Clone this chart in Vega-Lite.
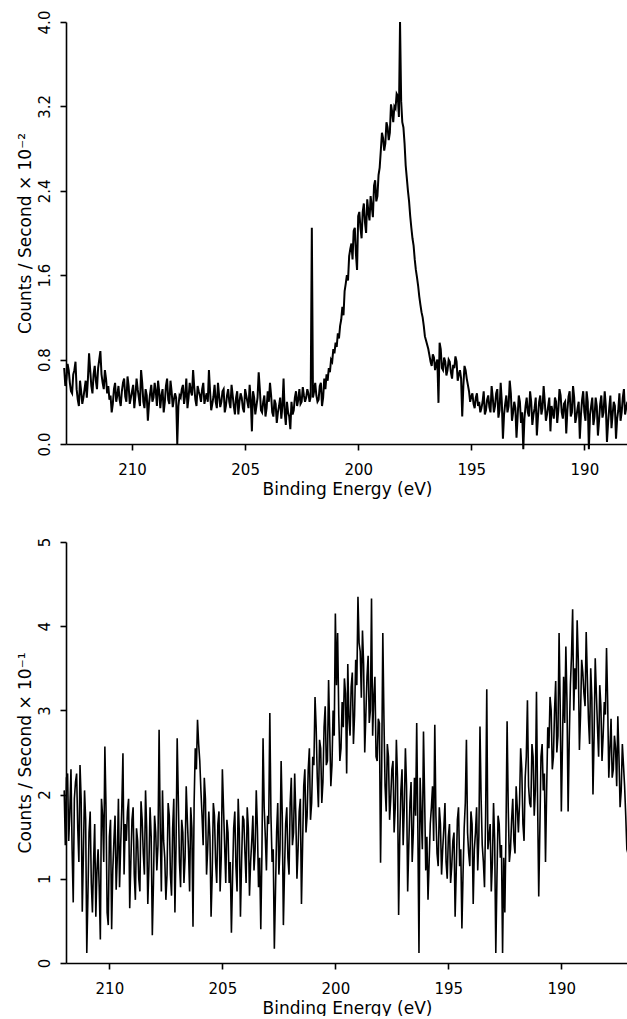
{
  "$schema": "https://vega.github.io/schema/vega-lite/v6.json",
  "background": "white",
  "padding": {"left": 15, "top": 10, "right": 0, "bottom": 0},
  "bounds": "flush",
  "spacing": 98,
  "config": {
    "view": {"stroke": null},
    "axis": {
      "grid": false,
      "labelFont": "DejaVu Sans",
      "titleFont": "DejaVu Sans",
      "labelFontSize": 15,
      "titleFontSize": 17,
      "titleFontWeight": "normal",
      "labelColor": "black",
      "titleColor": "black",
      "domainColor": "black",
      "tickColor": "black",
      "domainWidth": 1.6,
      "tickWidth": 1.6,
      "tickSize": 6,
      "labelFlush": false,
      "labelOverlap": false
    },
    "axisX": {"labelPadding": 12, "titlePadding": 4},
    "axisY": {"labelAngle": -90, "labelPadding": 8, "titlePadding": 3}
  },
  "datasets": {
    "top": [
      {"e":213.0,"c":0.72},{"e":212.9,"c":0.62},{"e":212.8,"c":0.70},{"e":212.7,"c":0.50},{"e":212.6,"c":0.66},{"e":212.5,"c":0.78},{"e":212.4,"c":0.42},{"e":212.3,"c":0.60},{"e":212.2,"c":0.38},{"e":212.1,"c":0.52},
      {"e":212.0,"c":0.44},{"e":211.9,"c":0.86},{"e":211.8,"c":0.55},{"e":211.7,"c":0.66},{"e":211.6,"c":0.60},{"e":211.5,"c":0.72},{"e":211.4,"c":0.88},{"e":211.3,"c":0.58},{"e":211.2,"c":0.70},{"e":211.1,"c":0.48},
      {"e":211.0,"c":0.42},{"e":210.9,"c":0.30},{"e":210.8,"c":0.52},{"e":210.7,"c":0.40},{"e":210.6,"c":0.55},{"e":210.5,"c":0.36},{"e":210.4,"c":0.58},{"e":210.3,"c":0.45},{"e":210.2,"c":0.64},{"e":210.1,"c":0.38},
      {"e":210.0,"c":0.50},{"e":209.9,"c":0.34},{"e":209.8,"c":0.62},{"e":209.7,"c":0.44},{"e":209.6,"c":0.70},{"e":209.5,"c":0.40},{"e":209.4,"c":0.52},{"e":209.3,"c":0.22},{"e":209.2,"c":0.48},{"e":209.1,"c":0.40},
      {"e":209.0,"c":0.58},{"e":208.9,"c":0.36},{"e":208.8,"c":0.50},{"e":208.7,"c":0.46},{"e":208.6,"c":0.30},{"e":208.5,"c":0.55},{"e":208.4,"c":0.42},{"e":208.3,"c":0.60},{"e":208.2,"c":0.35},{"e":208.1,"c":0.48},
      {"e":208.0,"c":0.00},{"e":207.9,"c":0.46},{"e":207.8,"c":0.52},{"e":207.7,"c":0.38},{"e":207.6,"c":0.62},{"e":207.5,"c":0.44},{"e":207.4,"c":0.50},{"e":207.3,"c":0.70},{"e":207.2,"c":0.42},{"e":207.1,"c":0.55},
      {"e":207.0,"c":0.46},{"e":206.9,"c":0.52},{"e":206.8,"c":0.38},{"e":206.7,"c":0.48},{"e":206.6,"c":0.70},{"e":206.5,"c":0.32},{"e":206.4,"c":0.45},{"e":206.3,"c":0.40},{"e":206.2,"c":0.58},{"e":206.1,"c":0.35},
      {"e":206.0,"c":0.50},{"e":205.9,"c":0.30},{"e":205.8,"c":0.46},{"e":205.7,"c":0.40},{"e":205.6,"c":0.56},{"e":205.5,"c":0.36},{"e":205.4,"c":0.44},{"e":205.3,"c":0.28},{"e":205.2,"c":0.48},{"e":205.1,"c":0.34},
      {"e":205.0,"c":0.52},{"e":204.9,"c":0.40},{"e":204.8,"c":0.56},{"e":204.7,"c":0.12},{"e":204.6,"c":0.44},{"e":204.5,"c":0.36},{"e":204.4,"c":0.68},{"e":204.3,"c":0.32},{"e":204.2,"c":0.40},{"e":204.1,"c":0.26},
      {"e":204.0,"c":0.50},{"e":203.9,"c":0.58},{"e":203.8,"c":0.30},{"e":203.7,"c":0.42},{"e":203.6,"c":0.20},{"e":203.5,"c":0.36},{"e":203.4,"c":0.24},{"e":203.3,"c":0.62},{"e":203.2,"c":0.18},{"e":203.1,"c":0.30},
      {"e":203.0,"c":0.14},{"e":202.9,"c":0.28},{"e":202.8,"c":0.44},{"e":202.7,"c":0.36},{"e":202.6,"c":0.52},{"e":202.5,"c":0.40},{"e":202.4,"c":0.46},{"e":202.3,"c":0.44},{"e":202.2,"c":0.48},{"e":202.1,"c":0.45},
      {"e":202.05,"c":2.05},{"e":202.0,"c":0.44},{"e":201.9,"c":0.58},{"e":201.8,"c":0.40},{"e":201.7,"c":0.55},{"e":201.6,"c":0.36},{"e":201.5,"c":0.62},{"e":201.4,"c":0.66},{"e":201.3,"c":0.72},{"e":201.2,"c":0.80},
      {"e":201.1,"c":0.90},{"e":201.0,"c":0.96},{"e":200.9,"c":1.05},{"e":200.8,"c":1.12},{"e":200.7,"c":1.30},{"e":200.6,"c":1.45},{"e":200.5,"c":1.60},{"e":200.4,"c":1.78},{"e":200.3,"c":1.90},{"e":200.2,"c":2.02},
      {"e":200.1,"c":1.80},{"e":200.0,"c":2.16},{"e":199.9,"c":2.05},{"e":199.8,"c":2.20},{"e":199.7,"c":2.10},{"e":199.6,"c":2.32},{"e":199.5,"c":2.12},{"e":199.4,"c":2.25},{"e":199.3,"c":2.45},{"e":199.2,"c":2.30},
      {"e":199.1,"c":2.55},{"e":199.0,"c":2.78},{"e":198.9,"c":2.90},{"e":198.8,"c":2.85},{"e":198.7,"c":3.00},{"e":198.6,"c":2.95},{"e":198.5,"c":3.15},{"e":198.4,"c":3.20},{"e":198.3,"c":3.32},{"e":198.2,"c":3.10},
      {"e":198.15,"c":4.00},{"e":198.1,"c":3.25},{"e":198.0,"c":3.00},{"e":197.9,"c":2.64},{"e":197.8,"c":2.40},{"e":197.7,"c":2.16},{"e":197.6,"c":1.95},{"e":197.5,"c":1.75},{"e":197.4,"c":1.58},{"e":197.3,"c":1.40},
      {"e":197.2,"c":1.25},{"e":197.1,"c":1.12},{"e":197.0,"c":0.98},{"e":196.9,"c":0.90},{"e":196.8,"c":0.78},{"e":196.7,"c":0.85},{"e":196.6,"c":0.70},{"e":196.5,"c":0.80},{"e":196.45,"c":0.39},{"e":196.4,"c":0.96},
      {"e":196.3,"c":0.72},{"e":196.2,"c":0.82},{"e":196.1,"c":0.65},{"e":196.0,"c":0.80},{"e":195.9,"c":0.68},{"e":195.8,"c":0.75},{"e":195.7,"c":0.83},{"e":195.6,"c":0.60},{"e":195.5,"c":0.70},{"e":195.4,"c":0.26},
      {"e":195.3,"c":0.74},{"e":195.2,"c":0.62},{"e":195.1,"c":0.50},{"e":195.0,"c":0.45},{"e":194.9,"c":0.38},{"e":194.8,"c":0.44},{"e":194.7,"c":0.36},{"e":194.6,"c":0.30},{"e":194.5,"c":0.40},{"e":194.4,"c":0.28},
      {"e":194.3,"c":0.42},{"e":194.2,"c":0.35},{"e":194.1,"c":0.55},{"e":194.0,"c":0.30},{"e":193.9,"c":0.48},{"e":193.8,"c":0.25},{"e":193.7,"c":0.58},{"e":193.6,"c":0.05},{"e":193.5,"c":0.38},{"e":193.4,"c":0.30},
      {"e":193.3,"c":0.60},{"e":193.2,"c":0.22},{"e":193.1,"c":0.40},{"e":193.0,"c":0.06},{"e":192.9,"c":0.46},{"e":192.8,"c":0.20},{"e":192.7,"c":-0.05},{"e":192.6,"c":0.36},{"e":192.5,"c":0.30},{"e":192.4,"c":0.50},
      {"e":192.3,"c":0.18},{"e":192.2,"c":0.34},{"e":192.1,"c":0.08},{"e":192.0,"c":0.40},{"e":191.9,"c":0.28},{"e":191.8,"c":0.55},{"e":191.7,"c":0.22},{"e":191.6,"c":0.36},{"e":191.5,"c":0.12},{"e":191.4,"c":0.30},
      {"e":191.3,"c":0.44},{"e":191.2,"c":0.20},{"e":191.1,"c":0.52},{"e":191.0,"c":0.30},{"e":190.9,"c":0.38},{"e":190.8,"c":0.10},{"e":190.7,"c":0.45},{"e":190.6,"c":0.26},{"e":190.5,"c":0.55},{"e":190.4,"c":0.20},
      {"e":190.3,"c":0.34},{"e":190.2,"c":0.05},{"e":190.1,"c":0.42},{"e":190.0,"c":0.30},{"e":189.9,"c":0.50},{"e":189.8,"c":-0.05},{"e":189.7,"c":0.36},{"e":189.6,"c":0.18},{"e":189.5,"c":0.44},{"e":189.4,"c":0.08},
      {"e":189.3,"c":0.38},{"e":189.2,"c":0.25},{"e":189.1,"c":0.50},{"e":189.0,"c":0.02},{"e":188.9,"c":0.34},{"e":188.8,"c":0.15},{"e":188.7,"c":0.40},{"e":188.6,"c":0.05},{"e":188.5,"c":0.32},{"e":188.4,"c":0.22},
      {"e":188.3,"c":0.44},{"e":188.2,"c":0.28},{"e":188.1,"c":0.40},
      {"e":212.95,"c":0.55},{"e":212.85,"c":0.76},{"e":212.75,"c":0.58},{"e":212.65,"c":0.48},{"e":212.55,"c":0.70},{"e":212.45,"c":0.52},{"e":212.35,"c":0.36},{"e":212.25,"c":0.50},{"e":212.15,"c":0.44},{"e":212.05,"c":0.60},
      {"e":211.95,"c":0.62},{"e":211.85,"c":0.70},{"e":211.75,"c":0.48},{"e":211.65,"c":0.74},{"e":211.55,"c":0.52},{"e":211.45,"c":0.80},{"e":211.35,"c":0.66},{"e":211.25,"c":0.52},{"e":211.15,"c":0.62},{"e":211.05,"c":0.55},
      {"e":210.95,"c":0.46},{"e":210.85,"c":0.38},{"e":210.75,"c":0.58},{"e":210.65,"c":0.46},{"e":210.55,"c":0.42},{"e":210.45,"c":0.50},{"e":210.35,"c":0.62},{"e":210.25,"c":0.40},{"e":210.15,"c":0.55},{"e":210.05,"c":0.44},
      {"e":209.95,"c":0.56},{"e":209.85,"c":0.46},{"e":209.75,"c":0.52},{"e":209.65,"c":0.36},{"e":209.55,"c":0.58},{"e":209.45,"c":0.34},{"e":209.35,"c":0.46},{"e":209.25,"c":0.38},{"e":209.15,"c":0.56},{"e":209.05,"c":0.44},
      {"e":208.95,"c":0.50},{"e":208.85,"c":0.60},{"e":208.75,"c":0.34},{"e":208.65,"c":0.52},{"e":208.55,"c":0.40},{"e":208.45,"c":0.62},{"e":208.35,"c":0.38},{"e":208.25,"c":0.50},{"e":208.15,"c":0.42},{"e":208.05,"c":0.44},
      {"e":207.95,"c":0.36},{"e":207.85,"c":0.44},{"e":207.75,"c":0.56},{"e":207.65,"c":0.46},{"e":207.55,"c":0.34},{"e":207.45,"c":0.58},{"e":207.35,"c":0.46},{"e":207.25,"c":0.54},{"e":207.15,"c":0.36},{"e":207.05,"c":0.50},
      {"e":206.95,"c":0.40},{"e":206.85,"c":0.58},{"e":206.75,"c":0.44},{"e":206.65,"c":0.40},{"e":206.55,"c":0.50},{"e":206.45,"c":0.38},{"e":206.35,"c":0.56},{"e":206.25,"c":0.34},{"e":206.15,"c":0.46},{"e":206.05,"c":0.40},
      {"e":205.95,"c":0.52},{"e":205.85,"c":0.36},{"e":205.75,"c":0.52},{"e":205.65,"c":0.34},{"e":205.55,"c":0.46},{"e":205.45,"c":0.28},{"e":205.35,"c":0.50},{"e":205.25,"c":0.40},{"e":205.15,"c":0.44},{"e":205.05,"c":0.30},
      {"e":204.95,"c":0.46},{"e":204.85,"c":0.34},{"e":204.75,"c":0.42},{"e":204.65,"c":0.50},{"e":204.55,"c":0.28},{"e":204.45,"c":0.44},{"e":204.35,"c":0.52},{"e":204.25,"c":0.30},{"e":204.15,"c":0.46},{"e":204.05,"c":0.34},
      {"e":203.95,"c":0.40},{"e":203.85,"c":0.46},{"e":203.75,"c":0.26},{"e":203.65,"c":0.38},{"e":203.55,"c":0.30},{"e":203.45,"c":0.44},{"e":203.35,"c":0.36},{"e":203.25,"c":0.30},{"e":203.15,"c":0.40},{"e":203.05,"c":0.26},
      {"e":202.95,"c":0.40},{"e":202.85,"c":0.32},{"e":202.75,"c":0.50},{"e":202.65,"c":0.42},{"e":202.55,"c":0.38},{"e":202.45,"c":0.54},{"e":202.35,"c":0.40},{"e":202.25,"c":0.52},{"e":202.15,"c":0.40},
      {"e":201.95,"c":0.50},{"e":201.85,"c":0.46},{"e":201.75,"c":0.42},{"e":201.65,"c":0.58},{"e":201.55,"c":0.44},{"e":201.45,"c":0.52},{"e":201.35,"c":0.60},{"e":201.25,"c":0.68},{"e":201.15,"c":0.78},{"e":201.05,"c":0.86},
      {"e":200.95,"c":0.92},{"e":200.85,"c":1.00},{"e":200.75,"c":1.18},{"e":200.65,"c":1.22},{"e":200.55,"c":1.52},{"e":200.45,"c":1.55},{"e":200.35,"c":1.85},{"e":200.25,"c":1.75},{"e":200.15,"c":2.05},{"e":200.05,"c":1.65},
      {"e":199.95,"c":2.20},{"e":199.85,"c":1.95},{"e":199.75,"c":2.28},{"e":199.65,"c":2.00},{"e":199.55,"c":2.20},{"e":199.45,"c":2.35},{"e":199.35,"c":2.15},{"e":199.25,"c":2.50},{"e":199.15,"c":2.35},{"e":199.05,"c":2.62},
      {"e":198.95,"c":2.95},{"e":198.85,"c":2.78},{"e":198.75,"c":3.05},{"e":198.65,"c":2.88},{"e":198.55,"c":3.22},{"e":198.45,"c":3.05},{"e":198.35,"c":3.18},{"e":198.25,"c":3.30},{"e":198.05,"c":3.05},
      {"e":197.95,"c":2.85},{"e":197.85,"c":2.52},{"e":197.75,"c":2.30},{"e":197.65,"c":2.05},{"e":197.55,"c":1.88},{"e":197.45,"c":1.65},{"e":197.35,"c":1.50},{"e":197.25,"c":1.32},{"e":197.15,"c":1.20},{"e":197.05,"c":1.02},
      {"e":196.95,"c":0.94},{"e":196.85,"c":0.84},{"e":196.75,"c":0.74},{"e":196.65,"c":0.82},{"e":196.55,"c":0.76},{"e":196.35,"c":0.90},{"e":196.25,"c":0.70},{"e":196.15,"c":0.78},{"e":196.05,"c":0.70},
      {"e":195.95,"c":0.78},{"e":195.85,"c":0.62},{"e":195.75,"c":0.72},{"e":195.65,"c":0.78},{"e":195.55,"c":0.66},{"e":195.45,"c":0.62},{"e":195.35,"c":0.55},{"e":195.25,"c":0.70},{"e":195.15,"c":0.56},{"e":195.05,"c":0.40},
      {"e":194.95,"c":0.48},{"e":194.85,"c":0.34},{"e":194.75,"c":0.48},{"e":194.65,"c":0.40},{"e":194.55,"c":0.34},{"e":194.45,"c":0.50},{"e":194.35,"c":0.32},{"e":194.25,"c":0.46},{"e":194.15,"c":0.30},{"e":194.05,"c":0.44},
      {"e":193.95,"c":0.36},{"e":193.85,"c":0.52},{"e":193.75,"c":0.32},{"e":193.65,"c":0.40},{"e":193.55,"c":0.28},{"e":193.45,"c":0.46},{"e":193.35,"c":0.36},{"e":193.25,"c":0.48},{"e":193.15,"c":0.30},{"e":193.05,"c":0.34},
      {"e":192.95,"c":0.26},{"e":192.85,"c":0.40},{"e":192.75,"c":0.30},{"e":192.65,"c":0.24},{"e":192.55,"c":0.44},{"e":192.45,"c":0.26},{"e":192.35,"c":0.40},{"e":192.25,"c":0.28},{"e":192.15,"c":0.44},{"e":192.05,"c":0.26},
      {"e":191.95,"c":0.46},{"e":191.85,"c":0.34},{"e":191.75,"c":0.40},{"e":191.65,"c":0.28},{"e":191.55,"c":0.44},{"e":191.45,"c":0.36},{"e":191.35,"c":0.24},{"e":191.25,"c":0.40},{"e":191.15,"c":0.32},{"e":191.05,"c":0.46},
      {"e":190.95,"c":0.24},{"e":190.85,"c":0.40},{"e":190.75,"c":0.32},{"e":190.65,"c":0.50},{"e":190.55,"c":0.30},{"e":190.45,"c":0.44},{"e":190.35,"c":0.26},{"e":190.25,"c":0.40},{"e":190.15,"c":0.28},{"e":190.05,"c":0.50},
      {"e":189.95,"c":0.22},{"e":189.85,"c":0.40},{"e":189.75,"c":0.28},{"e":189.65,"c":0.44},{"e":189.55,"c":0.26},{"e":189.45,"c":0.36},{"e":189.35,"c":0.22},{"e":189.25,"c":0.46},{"e":189.15,"c":0.30},{"e":189.05,"c":0.36},
      {"e":188.95,"c":0.20},{"e":188.85,"c":0.46},{"e":188.75,"c":0.28},{"e":188.65,"c":0.36},{"e":188.55,"c":0.24},{"e":188.45,"c":0.48},{"e":188.35,"c":0.30},{"e":188.25,"c":0.52},{"e":188.15,"c":0.34}
    ],
    "bottom": [
      {"e":212.0,"c":2.05},{"e":211.9,"c":2.20},{"e":211.8,"c":1.45},{"e":211.7,"c":2.30},{"e":211.6,"c":0.72},{"e":211.5,"c":2.15},{"e":211.4,"c":1.60},{"e":211.3,"c":2.35},{"e":211.2,"c":0.61},{"e":211.1,"c":2.05},
      {"e":211.0,"c":0.12},{"e":210.9,"c":1.55},{"e":210.8,"c":0.95},{"e":210.7,"c":1.20},{"e":210.6,"c":0.55},{"e":210.5,"c":1.35},{"e":210.4,"c":0.28},{"e":210.3,"c":1.75},{"e":210.2,"c":2.57},{"e":210.1,"c":0.60},
      {"e":210.0,"c":1.50},{"e":209.9,"c":0.40},{"e":209.8,"c":1.45},{"e":209.7,"c":0.87},{"e":209.6,"c":1.95},{"e":209.5,"c":1.40},{"e":209.4,"c":2.49},{"e":209.3,"c":1.65},{"e":209.2,"c":1.80},{"e":209.1,"c":0.65},
      {"e":209.0,"c":1.70},{"e":208.9,"c":1.05},{"e":208.8,"c":1.60},{"e":208.7,"c":1.00},{"e":208.6,"c":1.92},{"e":208.5,"c":1.30},{"e":208.4,"c":2.05},{"e":208.3,"c":0.70},{"e":208.2,"c":1.85},{"e":208.1,"c":0.33},
      {"e":208.0,"c":1.75},{"e":207.9,"c":1.10},{"e":207.8,"c":2.77},{"e":207.7,"c":0.85},{"e":207.6,"c":1.45},{"e":207.5,"c":0.75},{"e":207.4,"c":1.90},{"e":207.3,"c":1.05},{"e":207.2,"c":1.60},{"e":207.1,"c":0.60},
      {"e":207.0,"c":2.67},{"e":206.9,"c":1.20},{"e":206.8,"c":1.70},{"e":206.7,"c":0.95},{"e":206.6,"c":2.10},{"e":206.5,"c":1.35},{"e":206.4,"c":1.85},{"e":206.3,"c":0.43},{"e":206.2,"c":2.55},{"e":206.1,"c":2.89},
      {"e":206.0,"c":2.40},{"e":205.9,"c":1.75},{"e":205.8,"c":2.20},{"e":205.7,"c":1.05},{"e":205.6,"c":1.80},{"e":205.5,"c":0.55},{"e":205.4,"c":1.90},{"e":205.3,"c":1.20},{"e":205.2,"c":1.65},{"e":205.1,"c":0.85},
      {"e":205.0,"c":2.30},{"e":204.9,"c":1.40},{"e":204.8,"c":1.70},{"e":204.7,"c":0.95},{"e":204.6,"c":0.36},{"e":204.5,"c":1.60},{"e":204.4,"c":1.15},{"e":204.3,"c":1.95},{"e":204.2,"c":0.55},{"e":204.1,"c":1.75},
      {"e":204.0,"c":1.30},{"e":203.9,"c":1.85},{"e":203.8,"c":0.80},{"e":203.7,"c":1.45},{"e":203.6,"c":1.10},{"e":203.5,"c":2.05},{"e":203.4,"c":0.90},{"e":203.3,"c":0.40},{"e":203.2,"c":2.67},{"e":203.1,"c":1.50},
      {"e":203.0,"c":1.75},{"e":202.9,"c":2.97},{"e":202.8,"c":1.20},{"e":202.7,"c":0.17},{"e":202.6,"c":1.55},{"e":202.5,"c":1.05},{"e":202.4,"c":2.40},{"e":202.3,"c":0.45},{"e":202.2,"c":1.65},{"e":202.1,"c":1.25},
      {"e":202.0,"c":1.90},{"e":201.9,"c":1.40},{"e":201.8,"c":2.25},{"e":201.7,"c":1.00},{"e":201.6,"c":1.80},{"e":201.5,"c":0.70},{"e":201.4,"c":2.10},{"e":201.3,"c":1.55},{"e":201.2,"c":2.30},{"e":201.1,"c":1.70},
      {"e":201.0,"c":2.45},{"e":200.9,"c":3.16},{"e":200.8,"c":2.20},{"e":200.7,"c":2.65},{"e":200.6,"c":1.90},{"e":200.5,"c":2.80},{"e":200.4,"c":2.35},{"e":200.3,"c":3.36},{"e":200.2,"c":2.10},{"e":200.1,"c":3.00},
      {"e":200.0,"c":4.15},{"e":199.9,"c":3.92},{"e":199.8,"c":2.40},{"e":199.7,"c":3.10},{"e":199.6,"c":3.38},{"e":199.5,"c":2.25},{"e":199.4,"c":2.90},{"e":199.3,"c":3.28},{"e":199.2,"c":2.60},{"e":199.1,"c":3.60},
      {"e":199.0,"c":4.35},{"e":198.9,"c":3.70},{"e":198.8,"c":3.95},{"e":198.7,"c":2.50},{"e":198.6,"c":3.40},{"e":198.5,"c":2.85},{"e":198.4,"c":4.33},{"e":198.3,"c":3.16},{"e":198.2,"c":2.45},{"e":198.1,"c":2.90},
      {"e":198.0,"c":1.19},{"e":197.9,"c":3.92},{"e":197.8,"c":2.10},{"e":197.7,"c":2.60},{"e":197.6,"c":1.70},{"e":197.5,"c":2.30},{"e":197.4,"c":1.55},{"e":197.3,"c":2.65},{"e":197.2,"c":0.57},{"e":197.1,"c":2.05},
      {"e":197.0,"c":1.40},{"e":196.9,"c":2.55},{"e":196.8,"c":0.85},{"e":196.7,"c":1.90},{"e":196.6,"c":1.20},{"e":196.5,"c":2.20},{"e":196.4,"c":2.85},{"e":196.3,"c":0.12},{"e":196.2,"c":1.75},{"e":196.1,"c":2.75},
      {"e":196.0,"c":1.10},{"e":195.9,"c":0.75},{"e":195.8,"c":1.65},{"e":195.7,"c":2.10},{"e":195.6,"c":2.83},{"e":195.5,"c":1.30},{"e":195.4,"c":1.85},{"e":195.3,"c":1.05},{"e":195.2,"c":1.60},{"e":195.1,"c":1.20},
      {"e":195.0,"c":1.50},{"e":194.9,"c":0.95},{"e":194.8,"c":1.45},{"e":194.7,"c":0.55},{"e":194.6,"c":1.70},{"e":194.5,"c":1.15},{"e":194.4,"c":0.41},{"e":194.3,"c":1.60},{"e":194.2,"c":2.65},{"e":194.1,"c":1.30},
      {"e":194.0,"c":1.80},{"e":193.9,"c":0.70},{"e":193.8,"c":1.55},{"e":193.7,"c":1.10},{"e":193.6,"c":2.81},{"e":193.5,"c":1.40},{"e":193.4,"c":0.90},{"e":193.3,"c":3.25},{"e":193.2,"c":1.50},{"e":193.1,"c":0.85},
      {"e":193.0,"c":1.90},{"e":192.9,"c":0.12},{"e":192.8,"c":1.75},{"e":192.7,"c":1.25},{"e":192.6,"c":0.12},{"e":192.5,"c":0.60},{"e":192.4,"c":2.87},{"e":192.3,"c":1.20},{"e":192.2,"c":1.70},{"e":192.1,"c":1.45},
      {"e":192.0,"c":2.10},{"e":191.9,"c":1.55},{"e":191.8,"c":2.55},{"e":191.7,"c":1.65},{"e":191.6,"c":2.20},{"e":191.5,"c":3.12},{"e":191.4,"c":1.90},{"e":191.3,"c":2.60},{"e":191.2,"c":1.75},{"e":191.1,"c":3.22},
      {"e":191.0,"c":0.79},{"e":190.9,"c":2.45},{"e":190.8,"c":2.05},{"e":190.7,"c":1.20},{"e":190.6,"c":2.80},{"e":190.5,"c":3.16},{"e":190.4,"c":2.30},{"e":190.3,"c":3.00},{"e":190.2,"c":2.50},{"e":190.1,"c":3.92},
      {"e":190.0,"c":1.80},{"e":189.9,"c":3.40},{"e":189.8,"c":3.76},{"e":189.7,"c":1.80},{"e":189.6,"c":3.30},{"e":189.5,"c":4.20},{"e":189.4,"c":3.50},{"e":189.3,"c":4.07},{"e":189.2,"c":2.53},{"e":189.1,"c":3.60},
      {"e":189.0,"c":3.20},{"e":188.9,"c":3.93},{"e":188.8,"c":2.90},{"e":188.7,"c":3.50},{"e":188.6,"c":2.00},{"e":188.5,"c":3.62},{"e":188.4,"c":2.80},{"e":188.3,"c":3.30},{"e":188.2,"c":2.40},{"e":188.1,"c":3.10},
      {"e":188.0,"c":3.74},{"e":187.9,"c":2.20},{"e":187.8,"c":2.90},{"e":187.7,"c":2.30},{"e":187.6,"c":2.55},{"e":187.5,"c":2.93},{"e":187.4,"c":1.85},{"e":187.3,"c":2.60},{"e":187.2,"c":2.10},{"e":187.1,"c":1.35},
      {"e":211.95,"c":1.40},{"e":211.85,"c":2.25},{"e":211.75,"c":1.80},{"e":211.65,"c":1.35},{"e":211.55,"c":1.95},{"e":211.45,"c":2.25},{"e":211.35,"c":1.20},{"e":211.25,"c":1.95},{"e":211.15,"c":1.30},{"e":211.05,"c":1.70},
      {"e":210.95,"c":0.80},{"e":210.85,"c":1.80},{"e":210.75,"c":0.60},{"e":210.65,"c":1.65},{"e":210.55,"c":1.10},{"e":210.45,"c":0.90},{"e":210.35,"c":1.95},{"e":210.25,"c":1.20},{"e":210.15,"c":1.85},{"e":210.05,"c":0.45},
      {"e":209.95,"c":1.70},{"e":209.85,"c":1.10},{"e":209.75,"c":1.75},{"e":209.65,"c":1.25},{"e":209.55,"c":0.90},{"e":209.45,"c":1.85},{"e":209.35,"c":1.05},{"e":209.25,"c":1.45},{"e":209.15,"c":1.95},{"e":209.05,"c":1.20},
      {"e":208.95,"c":1.85},{"e":208.85,"c":0.75},{"e":208.75,"c":1.45},{"e":208.65,"c":0.85},{"e":208.55,"c":1.70},{"e":208.45,"c":1.05},{"e":208.35,"c":1.60},{"e":208.25,"c":1.15},{"e":208.15,"c":1.50},{"e":208.05,"c":0.95},
      {"e":207.95,"c":1.55},{"e":207.85,"c":1.40},{"e":207.75,"c":1.60},{"e":207.65,"c":2.05},{"e":207.55,"c":1.25},{"e":207.45,"c":1.05},{"e":207.35,"c":1.75},{"e":207.25,"c":0.80},{"e":207.15,"c":1.95},{"e":207.05,"c":1.40},
      {"e":206.95,"c":1.95},{"e":206.85,"c":0.90},{"e":206.75,"c":1.55},{"e":206.65,"c":1.25},{"e":206.55,"c":1.70},{"e":206.45,"c":0.85},{"e":206.35,"c":1.60},{"e":206.25,"c":1.90},{"e":206.15,"c":2.30},{"e":206.05,"c":2.60},
      {"e":205.95,"c":2.05},{"e":205.85,"c":1.40},{"e":205.75,"c":1.95},{"e":205.65,"c":1.35},{"e":205.55,"c":1.50},{"e":205.45,"c":1.05},{"e":205.35,"c":1.75},{"e":205.25,"c":0.95},{"e":205.15,"c":1.80},{"e":205.05,"c":1.25},
      {"e":204.95,"c":1.85},{"e":204.85,"c":0.95},{"e":204.75,"c":1.55},{"e":204.65,"c":1.20},{"e":204.55,"c":1.00},{"e":204.45,"c":1.80},{"e":204.35,"c":0.85},{"e":204.25,"c":1.55},{"e":204.15,"c":1.20},{"e":204.05,"c":1.70},
      {"e":203.95,"c":0.95},{"e":203.85,"c":1.60},{"e":203.75,"c":1.20},{"e":203.65,"c":1.75},{"e":203.55,"c":1.35},{"e":203.45,"c":1.60},{"e":203.35,"c":1.25},{"e":203.25,"c":1.30},{"e":203.15,"c":1.85},{"e":203.05,"c":1.10},
      {"e":202.95,"c":1.65},{"e":202.85,"c":1.75},{"e":202.75,"c":1.35},{"e":202.65,"c":0.85},{"e":202.55,"c":1.90},{"e":202.45,"c":1.35},{"e":202.35,"c":1.75},{"e":202.25,"c":1.10},{"e":202.15,"c":1.85},{"e":202.05,"c":1.05},
      {"e":201.95,"c":2.20},{"e":201.85,"c":1.55},{"e":201.75,"c":1.75},{"e":201.65,"c":1.35},{"e":201.55,"c":1.95},{"e":201.45,"c":1.40},{"e":201.35,"c":2.30},{"e":201.25,"c":1.75},{"e":201.15,"c":2.55},{"e":201.05,"c":1.90},
      {"e":200.95,"c":2.35},{"e":200.85,"c":2.80},{"e":200.75,"c":1.85},{"e":200.65,"c":2.55},{"e":200.55,"c":2.15},{"e":200.45,"c":3.05},{"e":200.35,"c":2.40},{"e":200.25,"c":2.75},{"e":200.15,"c":2.35},{"e":200.05,"c":2.70},
      {"e":199.95,"c":3.30},{"e":199.85,"c":2.95},{"e":199.75,"c":2.55},{"e":199.65,"c":2.80},{"e":199.55,"c":3.20},{"e":199.45,"c":3.55},{"e":199.35,"c":2.70},{"e":199.25,"c":3.45},{"e":199.15,"c":2.95},{"e":199.05,"c":3.30},
      {"e":198.95,"c":3.80},{"e":198.85,"c":3.15},{"e":198.75,"c":3.55},{"e":198.65,"c":2.95},{"e":198.55,"c":3.65},{"e":198.45,"c":3.00},{"e":198.35,"c":2.70},{"e":198.25,"c":3.40},{"e":198.15,"c":2.40},{"e":198.05,"c":2.85},
      {"e":197.95,"c":2.30},{"e":197.85,"c":2.90},{"e":197.75,"c":1.80},{"e":197.65,"c":2.45},{"e":197.55,"c":1.95},{"e":197.45,"c":2.40},{"e":197.35,"c":1.85},{"e":197.25,"c":2.20},{"e":197.15,"c":1.50},{"e":197.05,"c":2.30},
      {"e":196.95,"c":1.85},{"e":196.85,"c":2.10},{"e":196.75,"c":1.40},{"e":196.65,"c":2.15},{"e":196.55,"c":1.55},{"e":196.45,"c":1.75},{"e":196.35,"c":1.60},{"e":196.25,"c":2.20},{"e":196.15,"c":1.35},{"e":196.05,"c":1.95},
      {"e":195.95,"c":1.50},{"e":195.85,"c":1.20},{"e":195.75,"c":1.85},{"e":195.65,"c":1.45},{"e":195.55,"c":1.75},{"e":195.45,"c":1.15},{"e":195.35,"c":1.65},{"e":195.25,"c":1.35},{"e":195.15,"c":1.90},{"e":195.05,"c":1.00},
      {"e":194.95,"c":1.65},{"e":194.85,"c":1.15},{"e":194.75,"c":1.55},{"e":194.65,"c":1.10},{"e":194.55,"c":1.85},{"e":194.45,"c":1.35},{"e":194.35,"c":1.05},{"e":194.25,"c":1.90},{"e":194.15,"c":1.55},{"e":194.05,"c":1.15},
      {"e":193.95,"c":1.65},{"e":193.85,"c":1.35},{"e":193.75,"c":1.85},{"e":193.65,"c":1.50},{"e":193.55,"c":1.95},{"e":193.45,"c":1.20},{"e":193.35,"c":1.75},{"e":193.25,"c":1.35},{"e":193.15,"c":1.65},{"e":193.05,"c":1.20},
      {"e":192.95,"c":1.45},{"e":192.85,"c":1.00},{"e":192.75,"c":1.65},{"e":192.65,"c":1.40},{"e":192.55,"c":1.25},{"e":192.45,"c":1.55},{"e":192.35,"c":1.85},{"e":192.25,"c":1.35},{"e":192.15,"c":1.95},{"e":192.05,"c":1.30},
      {"e":191.95,"c":1.85},{"e":191.85,"c":1.90},{"e":191.75,"c":2.30},{"e":191.65,"c":1.45},{"e":191.55,"c":2.45},{"e":191.45,"c":2.10},{"e":191.35,"c":1.85},{"e":191.25,"c":2.45},{"e":191.15,"c":2.05},{"e":191.05,"c":1.90},
      {"e":190.95,"c":1.60},{"e":190.85,"c":2.60},{"e":190.75,"c":2.25},{"e":190.65,"c":2.05},{"e":190.55,"c":2.55},{"e":190.45,"c":3.00},{"e":190.35,"c":2.45},{"e":190.25,"c":3.35},{"e":190.15,"c":2.70},{"e":190.05,"c":3.05},
      {"e":189.95,"c":2.60},{"e":189.85,"c":2.85},{"e":189.75,"c":3.10},{"e":189.65,"c":2.65},{"e":189.55,"c":3.65},{"e":189.45,"c":3.00},{"e":189.35,"c":3.25},{"e":189.25,"c":3.60},{"e":189.15,"c":2.95},{"e":189.05,"c":3.45},
      {"e":188.95,"c":3.05},{"e":188.85,"c":3.40},{"e":188.75,"c":2.60},{"e":188.65,"c":3.15},{"e":188.55,"c":2.70},{"e":188.45,"c":3.20},{"e":188.35,"c":2.45},{"e":188.25,"c":3.05},{"e":188.15,"c":2.70},{"e":188.05,"c":2.95},
      {"e":187.95,"c":3.10},{"e":187.85,"c":2.55},{"e":187.75,"c":2.20},{"e":187.65,"c":2.70},{"e":187.55,"c":2.10},{"e":187.45,"c":2.45},{"e":187.35,"c":2.05},{"e":187.25,"c":2.35},{"e":187.15,"c":1.75},{"e":187.05,"c":1.30}
    ]
  },
  "vconcat": [
    {
      "width": 562,
      "height": 422,
      "data": {"name": "top"},
      "mark": {"type": "line", "color": "black", "strokeWidth": 2.0},
      "encoding": {
        "x": {
          "field": "e", "type": "quantitative",
          "scale": {"domain": [188.07, 212.92], "reverse": true, "nice": false, "zero": false},
          "axis": {"values": [210, 205, 200, 195, 190], "title": "Binding Energy (eV)"}
        },
        "y": {
          "field": "c", "type": "quantitative",
          "scale": {"domain": [0, 4], "nice": false, "zero": false},
          "axis": {"values": [0, 0.8, 1.6, 2.4, 3.2, 4.0], "format": ".1f", "title": "Counts / Second × 10⁻²"}
        }
      }
    },
    {
      "width": 562,
      "height": 421,
      "data": {"name": "bottom"},
      "mark": {"type": "line", "color": "black", "strokeWidth": 1.6},
      "encoding": {
        "x": {
          "field": "e", "type": "quantitative",
          "scale": {"domain": [187.05, 211.92], "reverse": true, "nice": false, "zero": false},
          "axis": {"values": [210, 205, 200, 195, 190], "title": "Binding Energy (eV)"}
        },
        "y": {
          "field": "c", "type": "quantitative",
          "scale": {"domain": [0, 5], "nice": false, "zero": false},
          "axis": {"values": [0, 1, 2, 3, 4, 5], "format": "d", "title": "Counts / Second × 10⁻¹"}
        }
      }
    }
  ]
}
